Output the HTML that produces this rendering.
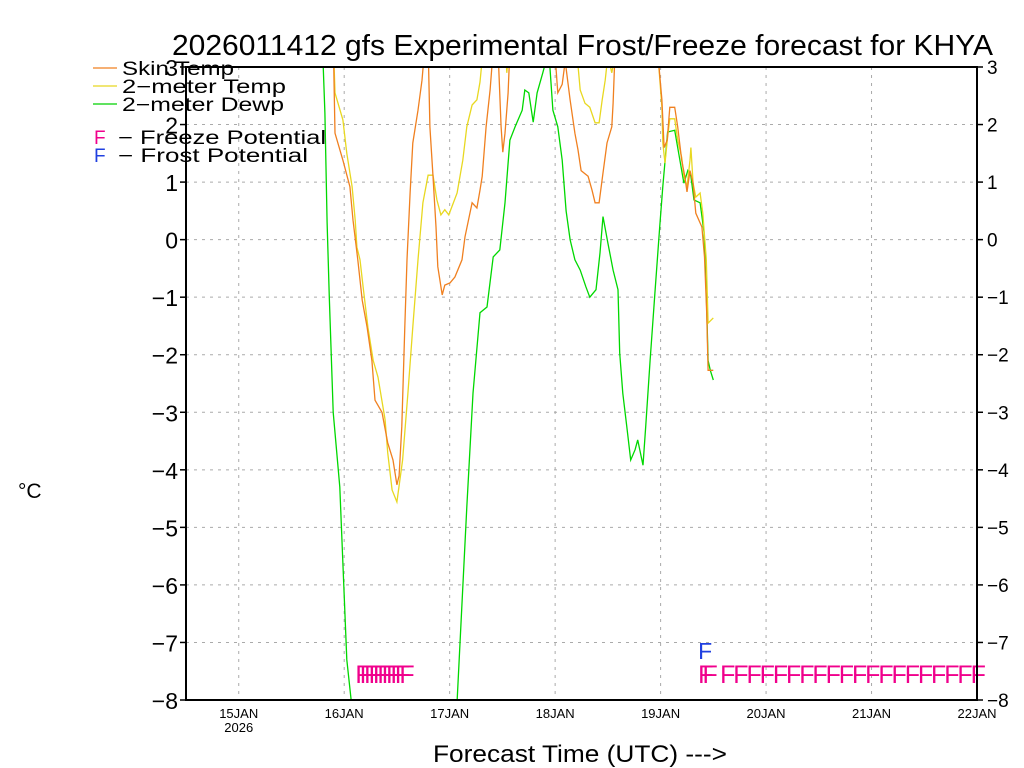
<!DOCTYPE html>
<html><head><meta charset="utf-8"><style>
html,body{margin:0;padding:0;background:#fff;width:1024px;height:768px;overflow:hidden;}
svg{display:block;font-family:"Liberation Sans",sans-serif;overflow:hidden;}
</style></head><body>
<svg id="chart" width="1024" height="768" viewBox="0 0 1024 768" xmlns="http://www.w3.org/2000/svg">
<defs><clipPath id="plotclip"><rect x="186" y="67" width="791" height="633"/></clipPath></defs>
<rect x="0" y="0" width="1024" height="768" fill="#fff"/>
<text x="172" y="55" font-size="29" textLength="821" lengthAdjust="spacingAndGlyphs">2026011412 gfs Experimental Frost/Freeze forecast for KHYA</text>
<g id="grid"></g>
<g id="series" clip-path="url(#plotclip)"></g>
<g id="markers"></g>
<g id="axes"></g>
<g font-size="19">
<line x1="93" y1="68" x2="117" y2="68" stroke="#f08020" stroke-width="1.3"/>
<text x="122" y="75" textLength="112" lengthAdjust="spacingAndGlyphs">Skin Temp</text>
<line x1="93" y1="86" x2="117" y2="86" stroke="#e8d820" stroke-width="1.3"/>
<text x="122" y="93" textLength="164" lengthAdjust="spacingAndGlyphs">2−meter Temp</text>
<line x1="93" y1="104" x2="117" y2="104" stroke="#00d000" stroke-width="1.3"/>
<text x="122" y="111" textLength="162" lengthAdjust="spacingAndGlyphs">2−meter Dewp</text>
<text x="94" y="144" fill="#f0008c">F</text>
<text x="118" y="144" textLength="208" lengthAdjust="spacingAndGlyphs">−  Freeze Potential</text>
<text x="94" y="162" fill="#2040e0">F</text>
<text x="118" y="162" textLength="190" lengthAdjust="spacingAndGlyphs">−  Frost Potential</text>
</g>
<text x="18" y="498" font-size="21">°C</text>
<text x="433" y="762" font-size="24" textLength="294" lengthAdjust="spacingAndGlyphs">Forecast Time (UTC) ---&gt;</text>
</svg>
<script>
// hours from 15JAN 00Z
const skinHours=[21.5,21.9,23.7,25.3,26.0,27.1,28.1,29.2,30.3,31.0,32.6,33.9,35.1,36.0,36.5,37.1,37.8,38.3,39.0,39.6,40.8,41.7,42.4,43.1,43.5,44.2,44.9,45.3,46.3,46.9,48.1,49.2,50.8,51.5,53.1,54.2,54.9,55.4,56.3,57.2,57.9,59.0,59.7,60.1,60.6,61.3,61.7,66.3,72.0,72.6,73.6,74.3,75.4,76.5,77.2,77.9,79.5,80.4,81.1,82.0,82.9,83.8,84.9,85.2,85.6,90.2,95.4,96.3,96.8,97.5,98.1,99.2,99.9,100.8,101.5,102.0,102.7,103.4,104.0,105.4,106.0,106.5,106.8,108.0];
const skinTemp=[3.5,1.85,1.38,0.92,0.34,-0.35,-1.05,-1.52,-2.1,-2.79,-3.0,-3.53,-3.83,-4.26,-4.1,-3.25,-1.52,-0.35,0.81,1.68,2.25,2.77,3.4,3.4,1.96,1.1,0.22,-0.47,-0.96,-0.79,-0.75,-0.65,-0.35,0.05,0.64,0.55,0.86,1.1,1.96,2.6,3.3,3.3,1.96,1.52,1.85,2.55,3.3,3.8,3.2,2.55,2.7,3.1,2.43,1.85,1.56,1.2,1.1,0.86,0.64,0.64,1.16,1.68,1.96,2.37,3.2,3.8,3.2,2.43,1.6,1.73,2.3,2.3,1.96,1.38,1.1,0.83,1.2,0.98,0.46,0.22,-0.3,-1.27,-2.27,-2.27];
const t2Hours=[21.5,21.9,23.7,24.6,25.8,26.5,26.9,27.6,28.3,29.4,30.6,31.7,33.3,33.9,34.9,36.0,37.3,38.5,39.6,40.8,41.9,43.1,44.2,45.1,46.0,46.9,47.8,49.7,51.0,51.9,53.1,54.2,54.9,55.6,60.6,61.0,61.5,68.5,77.0,77.7,78.8,79.9,81.1,82.0,82.7,83.4,84.0,84.9,85.6,90.2,95.4,96.3,96.5,97.0,97.6,98.1,99.2,99.9,100.8,101.3,102.0,102.7,102.9,103.4,104.0,105.0,105.6,106.4,106.8,108.0];
const t2Temp=[3.5,2.55,2.08,1.5,0.92,0.34,-0.13,-0.35,-0.82,-1.52,-2.1,-2.39,-3.13,-3.7,-4.35,-4.56,-3.83,-2.67,-1.52,-0.35,0.64,1.12,1.12,0.69,0.43,0.52,0.43,0.81,1.38,1.96,2.34,2.43,2.74,3.3,3.5,2.9,3.3,3.8,3.2,2.6,2.37,2.3,2.03,2.03,2.43,2.77,3.2,2.9,3.2,3.8,3.2,2.3,1.68,1.33,1.78,2.1,2.1,1.73,1.43,1.1,0.92,1.38,1.6,0.98,0.74,0.81,0.46,-0.35,-1.45,-1.36];
const dewHours=[19.0,19.6,20.1,20.6,21.5,23.0,24.6,26.0,40.0,49.5,51.9,53.3,54.9,56.5,57.9,59.4,60.6,61.7,62.9,64.5,65.1,66.0,67.0,67.9,69.2,69.9,70.8,71.5,72.6,73.6,74.5,75.4,76.5,77.7,79.0,79.9,81.3,82.2,82.9,84.0,85.2,86.3,86.7,87.4,88.3,89.2,90.2,90.8,92.0,92.6,93.6,94.7,95.8,96.5,97.6,99.2,100.4,101.3,102.2,102.9,103.6,105.0,105.9,106.4,106.8,107.3,108.0];
const dewPoint=[3.5,2.2,0.3,-1.0,-3.0,-4.3,-7.3,-8.3,-10,-8.3,-4.65,-2.67,-1.27,-1.17,-0.3,-0.18,0.64,1.73,1.96,2.25,2.6,2.55,2.04,2.55,2.9,3.1,3.0,2.25,1.96,1.38,0.5,0,-0.35,-0.53,-0.82,-1.0,-0.87,-0.23,0.4,-0.06,-0.53,-0.87,-1.97,-2.67,-3.25,-3.83,-3.65,-3.48,-3.92,-3.25,-2.1,-0.93,0.22,0.92,1.87,1.9,1.38,0.98,1.2,1.1,0.69,0.64,0.12,-0.93,-2.1,-2.27,-2.44];
const freezeHours=[27,28,29,30,31,32,33,34,35,36,37,105,106,110,113,116,119,122,125,128,131,134,137,140,143,146,149,152,155,158,161,164,167];
const frostHours=[105];
const yTicks=[3,2,1,0,-1,-2,-3,-4,-5,-6,-7,-8];
const dayTicks=[0,1,2,3,4,5,6,7];
const dayLabels=["15JAN","16JAN","17JAN","18JAN","19JAN","20JAN","21JAN","22JAN"];

const NS="http://www.w3.org/2000/svg";
const X0=186,X1=977,Y0=67,Y1=700,H0=-12,H1=168,VMAX=3,VMIN=-8;
function xs(h){return X0+(h-H0)/(H1-H0)*(X1-X0);}
function ys(v){return Y0+(VMAX-v)/(VMAX-VMIN)*(Y1-Y0);}
function mk(tag,attrs,parent){const e=document.createElementNS(NS,tag);for(const k in attrs)e.setAttribute(k,attrs[k]);parent.appendChild(e);return e;}
function lbl(v){return v<0?"−"+Math.abs(v):String(v);}
const grid=document.getElementById('grid'),axes=document.getElementById('axes'),series=document.getElementById('series'),markers=document.getElementById('markers');
yTicks.forEach(v=>{
  const y=ys(v);
  if(v!==VMAX&&v!==VMIN){const g=mk('line',{x1:X0,x2:X1,y1:y,y2:y,stroke:'#aaa','stroke-dasharray':'3,5','stroke-width':1},grid);
  
  }
  const t1=mk('line',{x1:X0-6,x2:X0,y1:y,y2:y,stroke:'#000','stroke-width':1.5},axes);
  
  
  const t2=mk('line',{x1:X1,x2:X1+6,y1:y,y2:y,stroke:'#000','stroke-width':1.5},axes);
  
  
  const a=mk('text',{x:X0-8,y:y+9,'font-size':23,'text-anchor':'end'},axes);a.textContent=lbl(v);
  
  
  const b=mk('text',{x:X1+10,y:y+7,'font-size':19},axes);b.textContent=lbl(v);
  
  
});
dayTicks.forEach((d,i)=>{
  const x=xs(d*24);
  if(x<X1-1){const g=mk('line',{x1:x,x2:x,y1:Y0,y2:Y1,stroke:'#aaa','stroke-dasharray':'3,5','stroke-width':1},grid);
  
  }
  const t=mk('text',{x:x,y:718,'font-size':13,'text-anchor':'middle'},axes);t.textContent=dayLabels[i];
  
  
});
const yr=mk('text',{x:xs(0),y:732,'font-size':13,'text-anchor':'middle'},axes);yr.textContent="2026";


const frame=mk('rect',{x:X0,y:Y0,width:X1-X0,height:Y1-Y0,fill:'none',stroke:'#000','stroke-width':2},axes);


function drawLine(hs,vs,color,name){
  const p=mk('polyline',{points:hs.map((h,i)=>xs(h).toFixed(1)+","+ys(vs[i]).toFixed(1)).join(" "),fill:'none',stroke:color,'stroke-width':1.3},series);
  
  
}
drawLine(dewHours,dewPoint,'#00d800','dewpoint-line');
drawLine(t2Hours,t2Temp,'#e8d820','2m-temp-line');
drawLine(skinHours,skinTemp,'#f08020','skin-temp-line');
freezeHours.forEach(h=>{
  const t=mk('text',{x:xs(h)-2,y:683,'font-size':25,fill:'#f0008c'},markers);t.textContent="F";
  
  
});
frostHours.forEach(h=>{
  const t=mk('text',{x:xs(h)-2,y:659,'font-size':23,fill:'#2040e0'},markers);t.textContent="F";
  
  
});
</script>
</body></html>
